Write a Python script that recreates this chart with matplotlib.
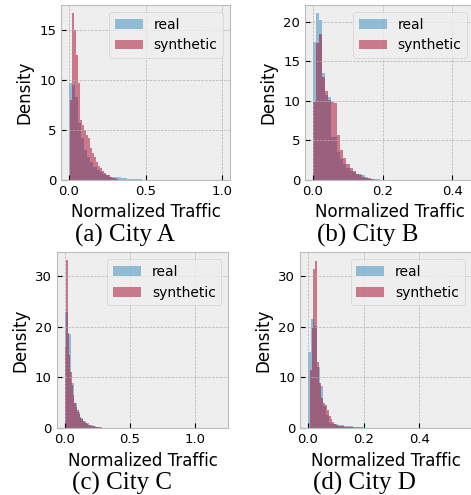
import numpy as np
import matplotlib
matplotlib.use("Agg")
import matplotlib.pyplot as plt

plt.style.use("bmh")

# ---------------- data (histogram bin heights, density) ----------------
# City A
a_real_start, a_real_width = 0.0, 0.02
a_real = [9.7, 9.5, 8.3, 5.7, 4.2, 3.0, 2.3, 1.8, 1.3, 1.0, 0.8, 0.6, 0.45,
          0.3, 0.28, 0.27, 0.27, 0.25, 0.2, 0.08, 0.08, 0.07, 0.06, 0.06, 0.05] + [0.02] * 25
a_syn_start, a_syn_width = 0.007, 0.013
a_syn = [8.0, 16.7, 15.0, 12.5, 9.7, 6.0, 5.5, 5.0, 4.5, 4.2, 3.2, 2.7, 2.3,
         1.8, 1.4, 1.2, 0.9, 0.7, 0.55, 0.45, 0.35, 0.25, 0.15, 0.08]

# City B
b_real_start, b_real_width = 0.0, 0.0088
b_real = [17.5, 21.1, 20.3, 13.5, 10.7, 10.5, 5.5, 5.4, 3.5, 2.6, 2.0, 1.5, 1.2,
          1.0, 0.8, 0.7, 0.6, 0.35, 0.12, 0.12, 0.12, 0.1] + [0.03] * 28
b_syn_start, b_syn_width = 0.0, 0.0088
b_syn = [9.9, 17.3, 18.5, 13.0, 11.3, 10.1, 9.9, 9.7, 5.7, 3.8, 2.8, 2.0, 1.5,
         1.1, 0.8, 0.6, 0.4, 0.3, 0.2, 0.1, 0.05]

# City C
c_real_start, c_real_width = 0.0, 0.0238
c_real = [22.9, 18.5, 9.0, 5.0, 3.3, 2.0, 1.4, 1.0, 0.7, 0.45, 0.25, 0.15,
          0.1, 0.08, 0.06, 0.05] + [0.02] * 34
c_syn_start, c_syn_width = 0.002, 0.0105
c_syn = [16.0, 33.0, 18.7, 14.5, 11.1, 8.5, 6.5, 5.0, 4.2, 3.5, 2.8, 2.3, 1.9,
         1.5, 1.2, 1.0, 0.8, 0.7, 0.6, 0.5, 0.45, 0.4, 0.35, 0.3, 0.25, 0.2,
         0.2, 0.15, 0.15, 0.1, 0.1, 0.08, 0.05]

# City D
d_real_start, d_real_width = 0.0, 0.0108
d_real = [15.0, 21.5, 20.2, 12.0, 8.4, 4.3, 2.6, 1.0, 0.9, 0.8, 0.7, 0.6,
          0.4, 0.4, 0.4, 0.15, 0.15, 0.15, 0.12] + [0.03] * 31
d_syn_start, d_syn_width = 0.007, 0.0068
d_syn = [11.5, 20.0, 31.4, 32.9, 13.1, 9.0, 6.0, 5.0, 4.5, 3.5, 2.5, 1.8, 1.2,
         0.9, 0.7, 0.5, 0.45, 0.4, 0.35, 0.3, 0.3, 0.25, 0.25, 0.2, 0.2, 0.2,
         0.2, 0.2, 0.15]

captions = ["(a) City A", "(b) City B", "(c) City C", "(d) City D"]
xlabel = "Normalized Traffic"
ylabel = "Density"
legend_labels = ["real", "synthetic"]

panels = [
    (a_real_start, a_real_width, a_real, a_syn_start, a_syn_width, a_syn),
    (b_real_start, b_real_width, b_real, b_syn_start, b_syn_width, b_syn),
    (c_real_start, c_real_width, c_real, c_syn_start, c_syn_width, c_syn),
    (d_real_start, d_real_width, d_real, d_syn_start, d_syn_width, d_syn),
]

xlims = [(-0.052, 1.052), (-0.022, 0.462), (-0.06, 1.253), (-0.0276, 0.587)]
ylims = [(0, 17.5), (0, 22.15), (0, 34.6), (0, 34.6)]
xticks = [[0.0, 0.5, 1.0], [0.0, 0.2, 0.4], [0.0, 0.5, 1.0], [0.0, 0.2, 0.4]]
yticks = [[0, 5, 10, 15], [0, 5, 10, 15, 20], [0, 10, 20, 30], [0, 10, 20, 30]]

W, H = 471, 495
fig = plt.figure(figsize=(W / 100, H / 100), dpi=100)

rects_px = [(61, 5, 169, 175), (305, 5, 169, 175),
            (56.7, 252.3, 171.6, 176), (300, 252.3, 171.6, 176)]
caption_pos = [(124.5, 235), (367.5, 235), (122, 483), (364, 483)]


def edges_of(start, width, n):
    return start + width * np.arange(n + 1)


for i, (rs, rw, rv, ss, sw, sv) in enumerate(panels):
    l, t, w, h = rects_px[i]
    ax = fig.add_axes([l / W, 1 - (t + h) / H, w / W, h / H])
    re = edges_of(rs, rw, len(rv))
    se = edges_of(ss, sw, len(sv))
    ax.hist(re[:-1], bins=re, weights=rv, alpha=0.5, color="#348ABD", label=legend_labels[0])
    ax.hist(se[:-1], bins=se, weights=sv, alpha=0.5, color="#A60628", label=legend_labels[1])
    ax.set_xlim(*xlims[i])
    ax.set_ylim(*ylims[i])
    ax.set_xticks(xticks[i])
    ax.set_yticks(yticks[i])
    ax.tick_params(labelsize=9.5)
    ax.set_xlabel(xlabel)
    ax.set_ylabel(ylabel)
    ax.legend(loc="upper right")
    cx, cy = caption_pos[i]
    fig.text(cx / W, 1 - cy / H, captions[i], ha="center", va="center",
             fontsize=18, family="Liberation Serif")

fig.savefig("out.png", dpi=100)
